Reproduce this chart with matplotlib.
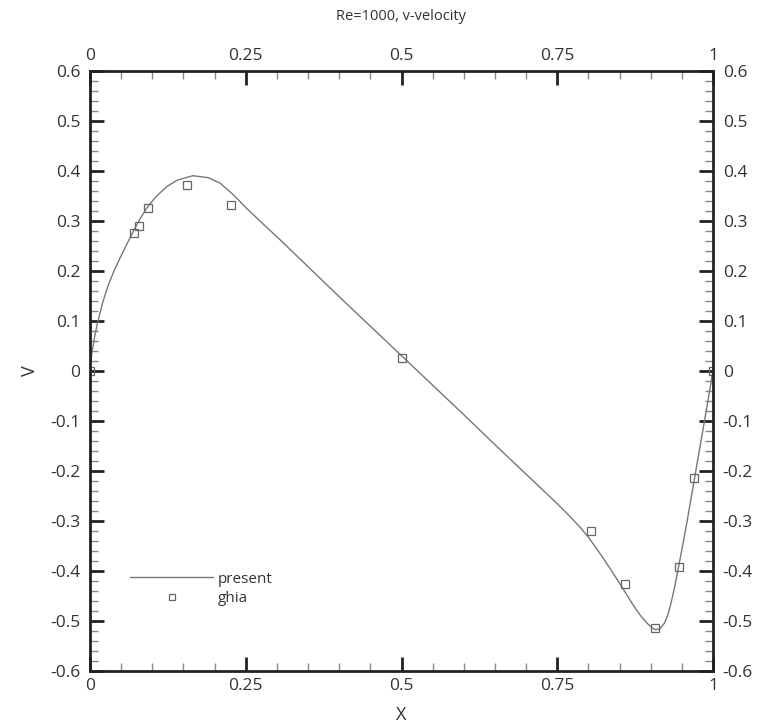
import matplotlib
matplotlib.use("Agg")
import matplotlib.pyplot as plt
from matplotlib.ticker import MultipleLocator, FuncFormatter

plt.rcParams['font.family'] = ['Open Sans', 'DejaVu Sans']

# Present solution: v-velocity along the horizontal centreline
present_x = [0.0, 0.003, 0.008, 0.013, 0.020, 0.029, 0.038, 0.048, 0.058, 0.070,
             0.080, 0.091, 0.105, 0.123, 0.140, 0.165, 0.190, 0.209, 0.230, 0.252,
             0.280, 0.305, 0.350, 0.400, 0.450, 0.500, 0.550, 0.600, 0.650, 0.700,
             0.750, 0.770, 0.788, 0.800, 0.820, 0.835, 0.851, 0.862, 0.873, 0.885,
             0.895, 0.902, 0.908, 0.915, 0.922, 0.927, 0.932, 0.938, 0.944, 0.952,
             0.959, 0.970, 0.978, 0.986, 0.993, 1.0]
present_v = [0.0, 0.035, 0.072, 0.100, 0.135, 0.170, 0.198, 0.225, 0.250, 0.280,
             0.303, 0.325, 0.347, 0.368, 0.381, 0.390, 0.386, 0.375, 0.352, 0.324,
             0.291, 0.262, 0.208, 0.148, 0.089, 0.030, -0.029, -0.088, -0.148, -0.207,
             -0.266, -0.291, -0.315, -0.333, -0.368, -0.396, -0.427, -0.449, -0.471, -0.492,
             -0.506, -0.514, -0.518, -0.516, -0.505, -0.490, -0.468, -0.435, -0.397, -0.345,
             -0.297, -0.218, -0.160, -0.103, -0.052, 0.0]

# Ghia et al. reference data
ghia_x = [0.0, 0.0703, 0.0781, 0.0938, 0.1563, 0.2266, 0.5, 0.8047, 0.8594,
          0.9063, 0.9453, 0.9688, 1.0]
ghia_v = [0.0, 0.2749, 0.2901, 0.3263, 0.3710, 0.3308, 0.0253, -0.3197, -0.4267,
          -0.5155, -0.3919, -0.2139, 0.0]

title = "Re=1000, v-velocity"
x_label = "X"
y_label = "V"

text_col = "#333333"
line_col = "#777777"

fig = plt.figure(figsize=(7.59, 7.28), dpi=100)
ax = fig.add_axes([90 / 759, 1 - 670.7 / 728, 623 / 759, 600 / 728])

ax.plot(present_x, present_v, color=line_col, lw=1.0, label="present")
ax.plot(ghia_x, ghia_v, ls="none", marker="s", ms=5.2, mfc="none", mec="#666666",
        mew=0.9, label="ghia")

ax.set_xlim(0, 1)
ax.set_ylim(-0.6, 0.6)

ax.xaxis.set_major_locator(MultipleLocator(0.25))
ax.xaxis.set_minor_locator(MultipleLocator(0.05))
ax.yaxis.set_major_locator(MultipleLocator(0.1))
ax.yaxis.set_minor_locator(MultipleLocator(0.02))


def fmt(v, pos):
    if abs(v) < 1e-9:
        return "0"
    return ("%.2f" % v).rstrip("0").rstrip(".")


ax.xaxis.set_major_formatter(FuncFormatter(fmt))
ax.yaxis.set_major_formatter(FuncFormatter(fmt))

ax.tick_params(which="both", direction="in", top=True, right=True,
               labeltop=True, labelright=True, colors="#222222",
               labelcolor=text_col, labelsize=12.5)
ax.tick_params(which="major", length=10, width=2.0)
ax.tick_params(which="minor", length=5.5, width=1.0, color="#888888")
ax.tick_params(axis="y", which="major", pad=7)
ax.tick_params(axis="x", which="major", pad=5)

for sp in ax.spines.values():
    sp.set_linewidth(2.0)
    sp.set_color("#222222")

ax.set_xlabel(x_label, fontsize=13, color=text_col, labelpad=9)
ax.set_ylabel(y_label, fontsize=13, color=text_col, labelpad=8, rotation=90)

fig.text(401 / 759, 1 - 17 / 728, title, ha="center", va="center",
         fontsize=10.5, color=text_col)

leg = ax.legend(loc="upper left", bbox_to_anchor=(0.055, 0.175), frameon=False,
                fontsize=11, handlelength=5.4, handletextpad=0.3,
                labelspacing=0.3, borderaxespad=0, markerscale=0.7)
for t in leg.get_texts():
    t.set_color(text_col)

fig.savefig("out.png", dpi=100, facecolor="white")
